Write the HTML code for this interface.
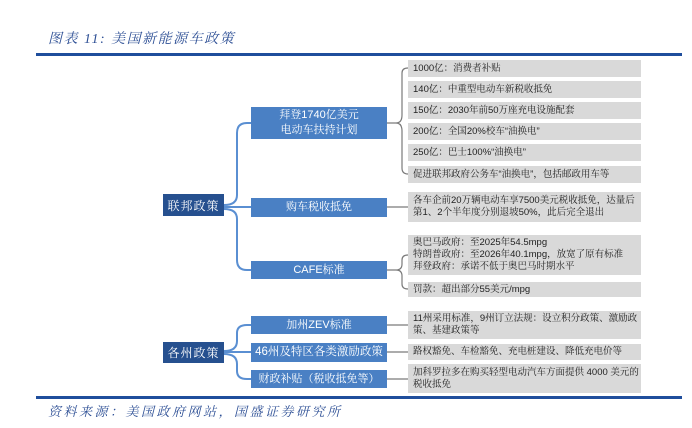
<!DOCTYPE html>
<html><head><meta charset="utf-8"><style>
*{margin:0;padding:0;box-sizing:border-box}
body{width:692px;height:428px;background:#fff;position:relative;overflow:hidden;font-family:"Liberation Sans","Noto Serif CJK SC","Noto Sans CJK SC",sans-serif}
.a{position:absolute}
.t{left:48px;top:28px;font-size:14px;color:#2d4f95;font-style:italic;letter-spacing:1.5px;font-family:"Liberation Serif","Noto Serif CJK SC",serif}
.s{left:48px;top:401px;font-size:13px;color:#2d4f95;font-style:italic;letter-spacing:2.5px;font-family:"Liberation Serif","Noto Serif CJK SC",serif}
.line{background:#1f4e9c;height:3px;left:36px;width:646px}
.b{background:#4a80c4;color:#fff;font-size:11px;display:flex;align-items:center;justify-content:center;text-align:center;line-height:15px;left:251px;width:136px}
.d{background:#26508f;color:#fff;font-size:12px;display:flex;align-items:center;justify-content:center;left:163px;width:61px;letter-spacing:1px}
.g{background:#d9d9d9;color:#222;font-size:9.5px;left:408px;width:233px;padding-left:5px;display:flex;flex-direction:column;justify-content:center;line-height:12px}
</style></head><body>
<div class="a t">图表 11:  美国新能源车政策</div>
<div class="a line" style="top:53px"></div>
<div class="a line" style="top:396px"></div>
<div class="a s">资料来源：美国政府网站，国盛证券研究所</div>
<svg class="a" style="left:0;top:0" width="692" height="428">
<g fill="none" stroke="#5a8fd2" stroke-width="2">
<path d="M224 205 Q237 205 237 195 L237 133 Q237 123 247 123 L251 123"/>
<path d="M224 207 L251 207"/>
<path d="M224 209 Q237 209 237 219 L237 260 Q237 270 247 270 L251 270"/>
<path d="M224 351 Q237 351 237 341 L237 333 Q237 325 247 325 L251 325"/>
<path d="M224 352 L251 352"/>
<path d="M224 354 Q237 354 237 364 L237 371 Q237 379 247 379 L251 379"/>
</g>
<g fill="none" stroke="#7a7a7a" stroke-width="1.2">
<path d="M387 123 L396 123 M396 123 Q402 123 402 115 L402 73 Q402 68 408 68 M396 123 Q402 123 402 131 L402 168 Q402 174 408 174"/>
<path d="M387 207 L408 207"/>
<path d="M387 270 L396 270 M396 270 Q402 270 402 264 L402 260 Q402 255 408 255 M396 270 Q402 270 402 276 L402 284 Q402 289 408 289"/>
<path d="M387 325 L408 325"/>
<path d="M387 352 L408 352"/>
<path d="M387 379 L408 379"/>
</g>
</svg>
<div class="a d" style="top:194px;height:22px">联邦政策</div>
<div class="a d" style="top:342px;height:21px">各州政策</div>
<div class="a b" style="top:107px;height:32px">拜登1740亿美元<br>电动车扶持计划</div>
<div class="a b" style="top:198px;height:19px">购车税收抵免</div>
<div class="a b" style="top:261px;height:18px">CAFE标准</div>
<div class="a b" style="top:316px;height:18px">加州ZEV标准</div>
<div class="a b" style="top:343px;height:19px;font-size:11.5px">46州及特区各类激励政策</div>
<div class="a b" style="top:370px;height:18px">财政补贴（税收抵免等）</div>
<div class="a g" style="top:60px;height:17px">1000亿：消费者补贴</div>
<div class="a g" style="top:81px;height:17px">140亿：中重型电动车新税收抵免</div>
<div class="a g" style="top:102px;height:17px">150亿：2030年前50万座充电设施配套</div>
<div class="a g" style="top:123px;height:17px">200亿：全国20%校车“油换电”</div>
<div class="a g" style="top:144px;height:17px">250亿：巴士100%“油换电”</div>
<div class="a g" style="top:166px;height:17px">促进联邦政府公务车“油换电”，包括邮政用车等</div>
<div class="a g" style="top:192px;height:30px">各车企前20万辆电动车享7500美元税收抵免，达量后第1、2个半年度分别退坡50%，此后完全退出</div>
<div class="a g" style="top:235px;height:40px">奥巴马政府：至2025年54.5mpg<br>特朗普政府：至2026年40.1mpg，放宽了原有标准<br>拜登政府：承诺不低于奥巴马时期水平</div>
<div class="a g" style="top:282px;height:15px">罚款：超出部分55美元/mpg</div>
<div class="a g" style="top:311px;height:28px">11州采用标准，9州订立法规：设立积分政策、激励政策、基建政策等</div>
<div class="a g" style="top:344px;height:16px">路权豁免、车检豁免、充电桩建设、降低充电价等</div>
<div class="a g" style="top:364px;height:29px">加科罗拉多在购买轻型电动汽车方面提供 4000 美元的税收抵免</div>
</body></html>
